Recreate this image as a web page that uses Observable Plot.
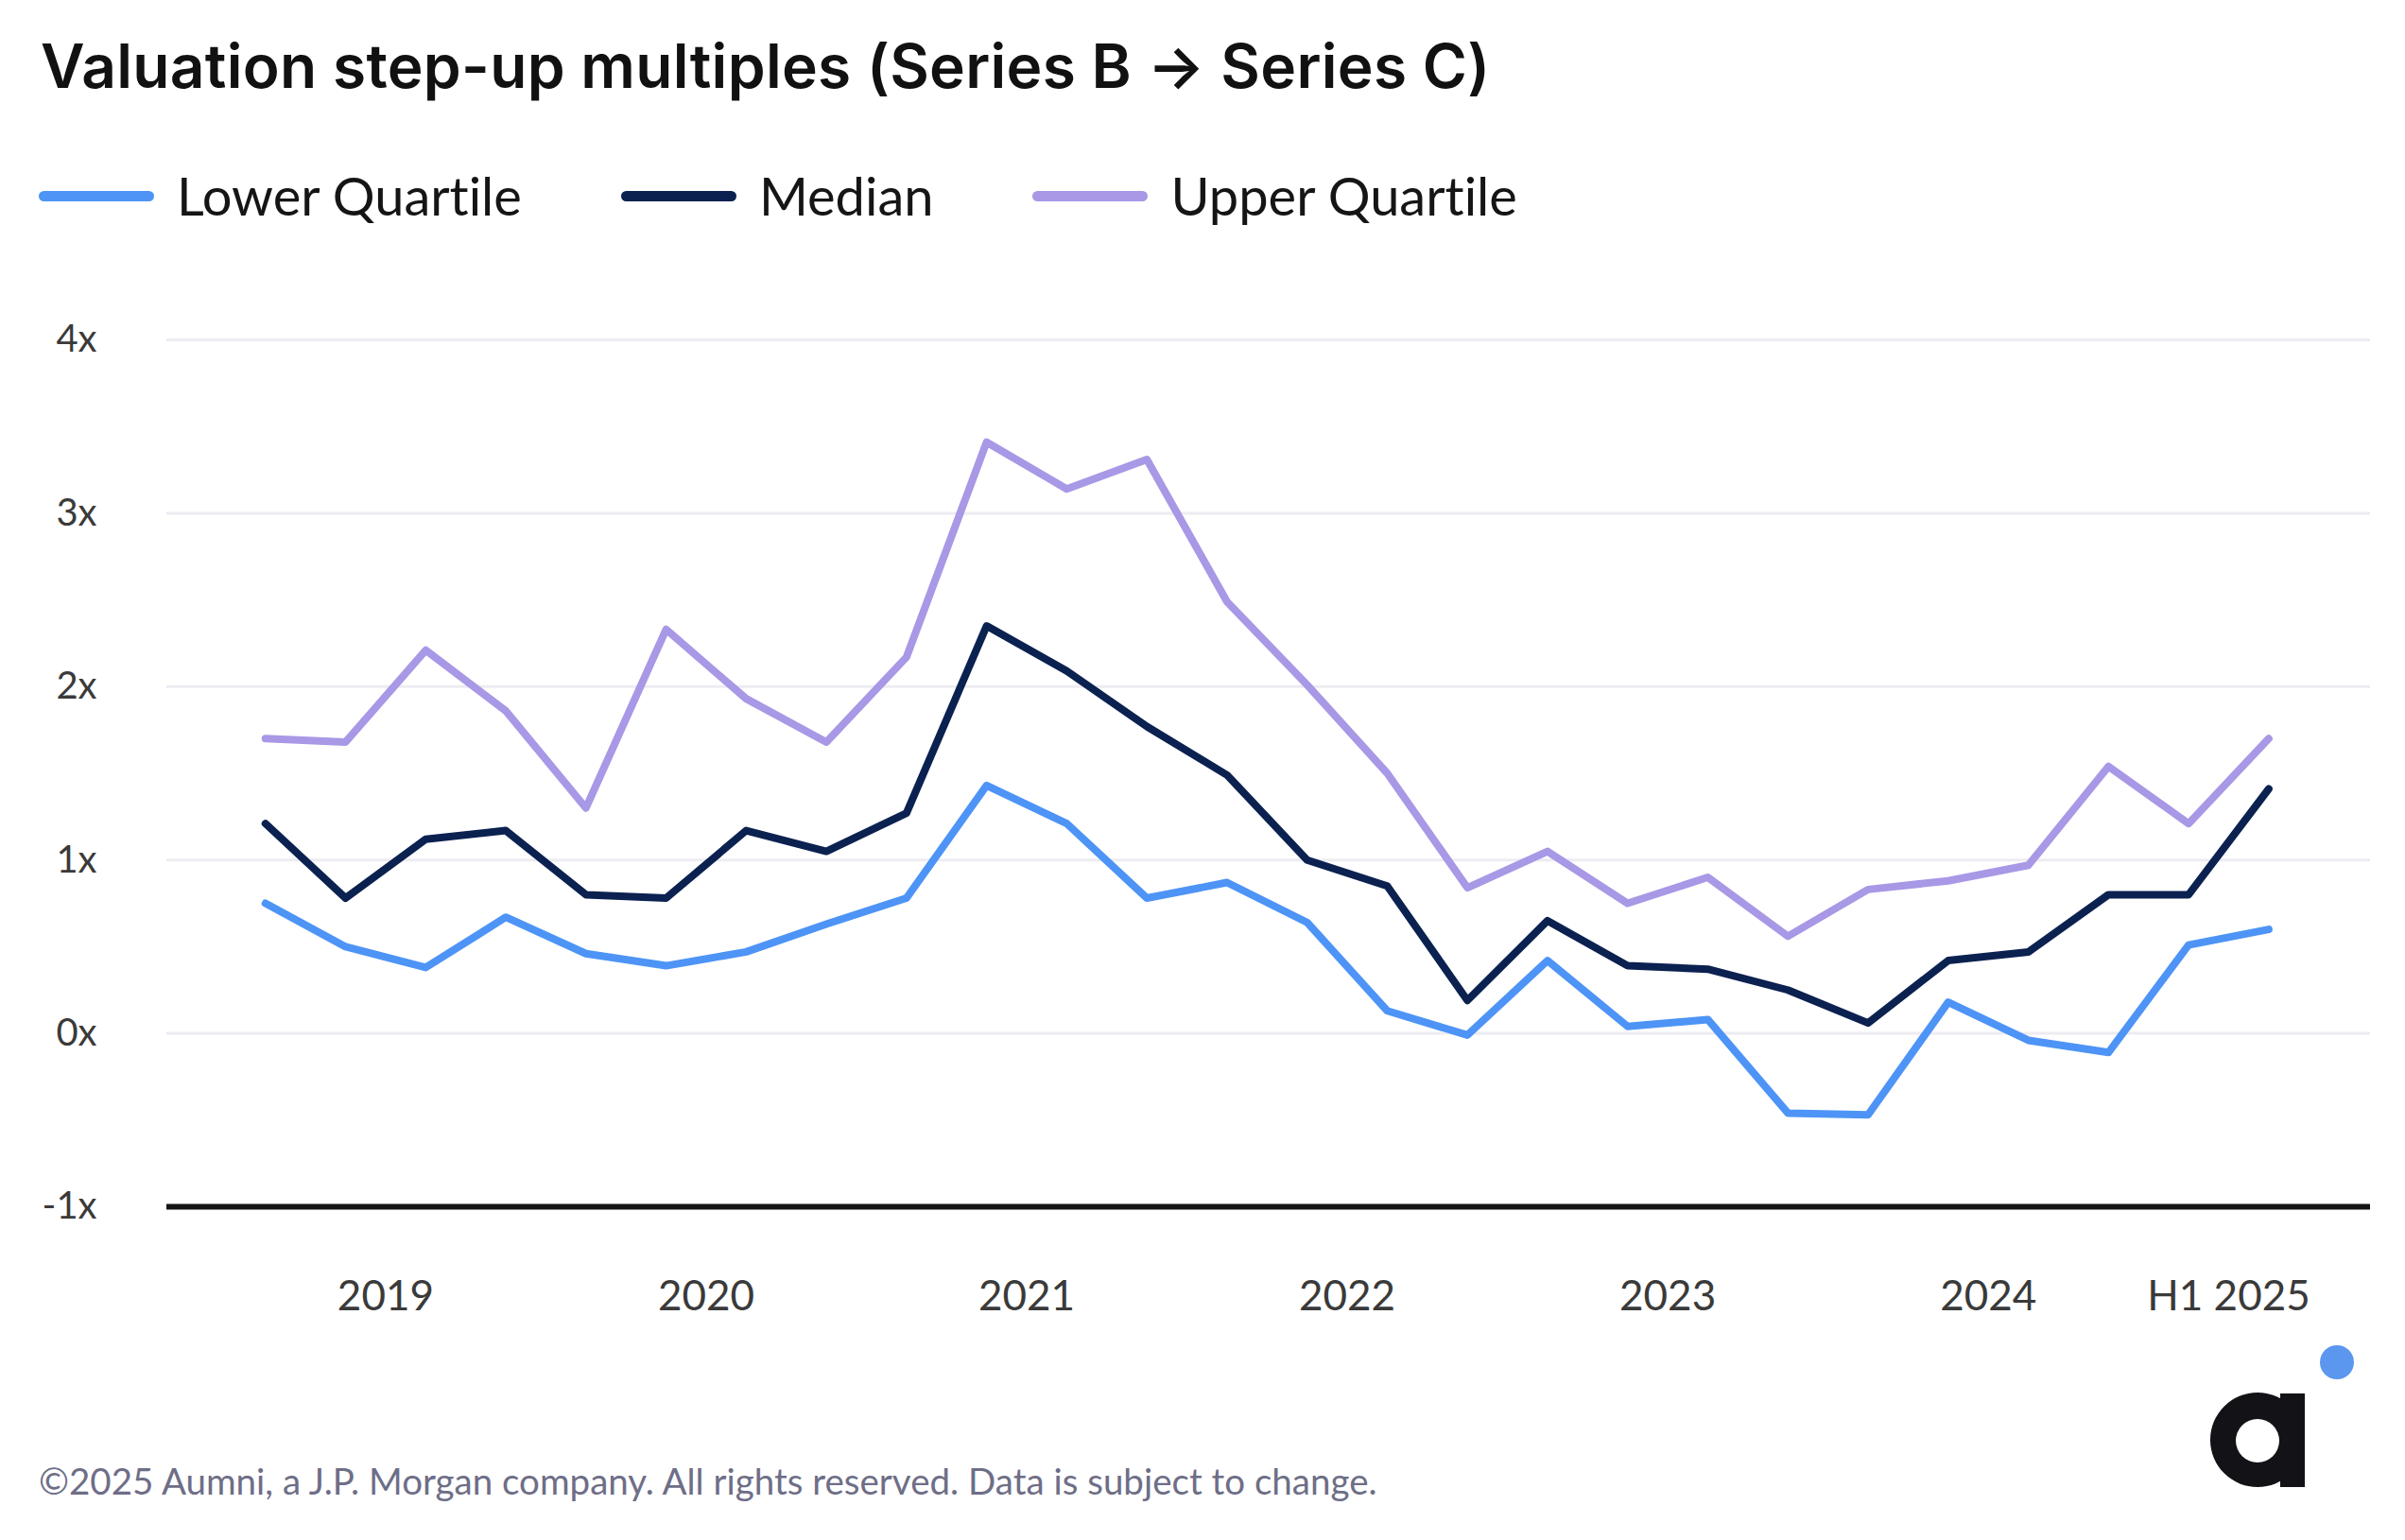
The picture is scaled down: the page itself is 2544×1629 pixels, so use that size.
<!DOCTYPE html>
<html>
<head>
<meta charset="utf-8">
<script src="https://cdn.jsdelivr.net/npm/d3@7"></script>
<script src="https://cdn.jsdelivr.net/npm/@observablehq/plot@0.6"></script>
<style>
  html, body { margin: 0; padding: 0; background: #ffffff; }
  body { width: 2544px; height: 1629px; position: relative; overflow: hidden; font-family: Lato, "Noto Sans", sans-serif; font-variant-ligatures: none; }
  #title { position: absolute; left: 43px; top: 38px; font-family: Inter, Lato, sans-serif; font-size: 64px; line-height: 1; font-weight: 600; color: #111111; white-space: nowrap; letter-spacing: 0.3px; }
  #legend { position: absolute; left: 41px; top: 180px; height: 54px; display: flex; align-items: center; gap: 105px; }
  .item { display: flex; align-items: center; gap: 24px; font-size: 56px; line-height: 54px; color: #151515; white-space: nowrap; }
  .sw { width: 122px; height: 11px; border-radius: 6px; }
  #chart { position: absolute; left: 0; top: 300px; }
  #footer { position: absolute; left: 41px; top: 1547px; font-size: 38.5px; line-height: 1; color: #6e6e87; white-space: nowrap; }
  #logo { position: absolute; left: 0; top: 0; }
</style>
</head>
<body>
<div id="title">Valuation step-up multiples (Series B → Series C)</div>
<div id="legend"></div>
<div id="chart"></div>
<div id="footer">©2025 Aumni, a J.P. Morgan company. All rights reserved. Data is subject to change.</div>
<svg id="logo" width="2544" height="1629" style="pointer-events:none">
  <circle cx="2388" cy="1523" r="50" fill="#131217"></circle>
  <rect x="2412" y="1474" width="26" height="99" fill="#131217"></rect>
  <circle cx="2388" cy="1524" r="23" fill="#ffffff"></circle>
  <circle cx="2472" cy="1441" r="18" fill="#5b96ef"></circle>
</svg>
<script>
// ---- Data (quarterly, Q1 2019 .. Q2 2025) ----
const yearGroup = [
  "2019","2019","2019","2019",
  "2020","2020","2020","2020",
  "2021","2021","2021","2021",
  "2022","2022","2022","2022",
  "2023","2023","2023","2023",
  "2024","2024","2024","2024",
  "H1 2025","H1 2025"
];
const lowerQuartile = [0.75, 0.50, 0.38, 0.67, 0.46, 0.39, 0.47, 0.63, 0.78, 1.43, 1.21, 0.78, 0.87, 0.64, 0.13, -0.01, 0.42, 0.04, 0.08, -0.46, -0.47, 0.18, -0.04, -0.11, 0.51, 0.60];
const median        = [1.21, 0.78, 1.12, 1.17, 0.80, 0.78, 1.17, 1.05, 1.27, 2.35, 2.09, 1.77, 1.49, 1.00, 0.85, 0.19, 0.65, 0.39, 0.37, 0.25, 0.06, 0.42, 0.47, 0.80, 0.80, 1.41];
const upperQuartile = [1.70, 1.68, 2.21, 1.86, 1.30, 2.33, 1.93, 1.68, 2.17, 3.41, 3.14, 3.31, 2.49, 2.01, 1.50, 0.84, 1.05, 0.75, 0.90, 0.56, 0.83, 0.88, 0.97, 1.54, 1.21, 1.70];

const seriesNames  = ["Lower Quartile", "Median", "Upper Quartile"];
const seriesColors = ["#4d94f6", "#0b2150", "#a898e6"];
const yTicks = [-1, 0, 1, 2, 3, 4];
const xTickLabels = ["2019", "2020", "2021", "2022", "2023", "2024", "H1 2025"];

// ---- Build table ----
const rows = [];
[lowerQuartile, median, upperQuartile].forEach((vals, s) =>
  vals.forEach((v, i) => rows.push({ i, v, series: seriesNames[s] }))
);
const tickPos = xTickLabels.map(l =>
  d3.mean(yearGroup.map((g, i) => (g === l ? i : null)).filter(d => d !== null))
);

// ---- Legend ----
const legend = document.getElementById("legend");
seriesNames.forEach((name, k) => {
  const item = document.createElement("div");
  item.className = "item";
  const sw = document.createElement("div");
  sw.className = "sw";
  sw.style.background = seriesColors[k];
  const t = document.createElement("span");
  t.textContent = name;
  item.appendChild(sw);
  item.appendChild(t);
  legend.appendChild(item);
});

// ---- Chart ----
const chart = Plot.plot({
  width: 2544,
  height: 1150,
  marginLeft: 176,
  marginRight: 37,
  marginTop: 59,
  marginBottom: 174,
  x: { domain: [-1.23, 26.27], label: null },
  y: { domain: [-1, 4], label: null },
  color: { domain: seriesNames, range: seriesColors },
  style: { fontFamily: "Lato, sans-serif", fontSize: "42px", color: "#3a3a3a", background: "transparent", fontVariantLigatures: "none" },
  marks: [
    Plot.gridY(yTicks.filter(t => t > -1), { stroke: "#ececf2", strokeOpacity: 1, strokeWidth: 3 }),
    Plot.axisY(yTicks, { tickSize: 0, tickPadding: 74, tickFormat: d => d + "x", fontSize: 40, label: null }),
    Plot.ruleY([-1], { stroke: "#141414", strokeWidth: 6 }),
    Plot.axisX(tickPos, { tickSize: 0, tickPadding: 78, tickFormat: d => xTickLabels[tickPos.indexOf(d)], fontSize: 44, label: null }),
    Plot.line(rows, { x: "i", y: "v", stroke: "series", z: "series", strokeWidth: 8, strokeLinecap: "round", strokeLinejoin: "round" })
  ]
});
document.getElementById("chart").appendChild(chart);
</script>
</body>
</html>
